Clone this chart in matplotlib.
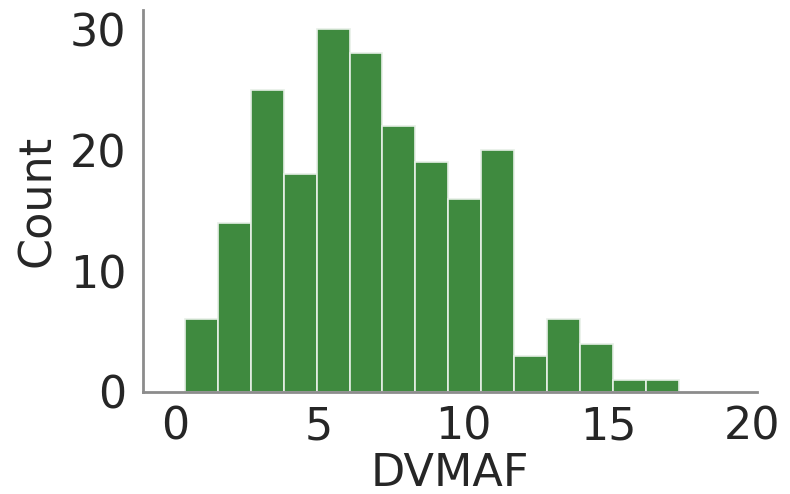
import numpy as np
import matplotlib
matplotlib.use("Agg")
import matplotlib.pyplot as plt

# Histogram of DVMAF values: bin edges and counts per bin
bin_edges = [0.35, 1.49, 2.63, 3.77, 4.91, 6.05, 7.19, 8.33, 9.47,
             10.61, 11.75, 12.89, 14.03, 15.17, 16.31, 17.45]
counts = [6, 14, 25, 18, 30, 28, 22, 19, 16, 20, 3, 6, 4, 1, 1]
x_ticks = [0, 5, 10, 15, 20]
y_ticks = [0, 10, 20, 30]

text_color = "#262626"
plt.rcParams["font.family"] = ["DejaVu Sans"]

fig = plt.figure(figsize=(7.9, 4.94), dpi=100)
ax = fig.add_axes([0.181, 0.2065, 0.777, 0.7735])

centers = [(a + b) / 2 for a, b in zip(bin_edges[:-1], bin_edges[1:])]
ax.hist(centers, bins=bin_edges, weights=counts, color="#3f8a3f",
        edgecolor="#e6efe6", linewidth=1.2)

ax.set_xlim(-1.1, 20.15)
ax.set_ylim(0, 31.6)
ax.set_xticks(x_ticks)
ax.set_yticks(y_ticks)

for side in ("top", "right"):
    ax.spines[side].set_visible(False)
for side in ("left", "bottom"):
    ax.spines[side].set_color("#8c8c8c")
    ax.spines[side].set_linewidth(2)

ax.tick_params(axis="both", length=0, labelsize=32, labelcolor=text_color)
ax.tick_params(axis="x", pad=10)
ax.tick_params(axis="y", pad=12)
ax.set_xlabel("DVMAF", fontsize=32, color=text_color, labelpad=2)
ax.set_ylabel("Count", fontsize=32, color=text_color, labelpad=8)

fig.savefig("out.png", dpi=100, facecolor="white")
